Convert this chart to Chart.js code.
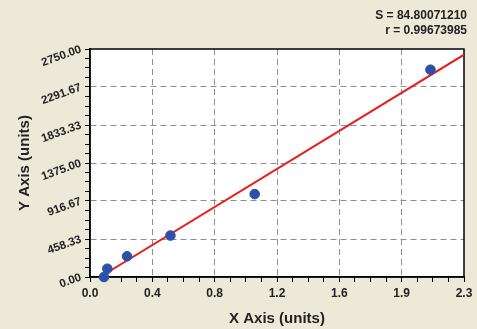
<!DOCTYPE html>
<html><head><meta charset="utf-8">
<script src="https://cdn.jsdelivr.net/npm/chart.js@4"></script>
<style>html,body{margin:0;padding:0;background:#ECE9D8;}#wrap{width:477px;height:329px;}</style>
</head><body><div id="wrap"><canvas id="c" width="477" height="329"></canvas></div>
<script>
const xValues = [0.087, 0.108, 0.231, 0.501, 1.026, 2.121];
const yValues = [0, 100, 250, 500, 1000, 2500];
const fitLineX = [0.062, 2.33];
const fitLineY = [0, 2681];
const xTickValues = [0, 0.38833, 0.77667, 1.165, 1.55333, 1.94167, 2.33];
const xTickLabels = ['0.0', '0.4', '0.8', '1.2', '1.6', '1.9', '2.3'];
const yTickValues = [0, 458.33, 916.67, 1375, 1833.33, 2291.67, 2750];
const yTickLabels = ['0.00', '458.33', '916.67', '1375.00', '1833.33', '2291.67', '2750.00'];
const statLines = ['S = 84.80071210', 'r = 0.99673985'];
const xTitle = 'X Axis (units)';
const yTitle = 'Y Axis (units)';

const FONT = '"Liberation Sans", Arial, sans-serif';

function buildTicks(majors, sub) {
  const out = [];
  for (let i = 0; i < majors.length; i++) {
    out.push({ value: majors[i], isMajor: true, mi: i });
    if (i < majors.length - 1) {
      for (let k = 1; k < sub; k++) {
        out.push({ value: majors[i] + (majors[i + 1] - majors[i]) * k / sub, isMajor: false });
      }
    }
  }
  return out;
}

function gridColor(majors) {
  return (c) => {
    const t = c.tick;
    if (!t || !t.isMajor) return 'rgba(0,0,0,0)';
    if (t.mi === 0 || t.mi === majors.length - 1) return 'rgba(0,0,0,0)';
    return '#8e8e8e';
  };
}

const bgPlugin = {
  id: 'bg',
  beforeDraw(chart) {
    const { ctx, chartArea: a } = chart;
    ctx.save();
    ctx.fillStyle = '#ECE9D8';
    ctx.fillRect(0, 0, chart.width, chart.height);
    ctx.fillStyle = '#FFFFFF';
    ctx.fillRect(a.left, a.top, a.right - a.left, a.bottom - a.top);
    ctx.restore();
  },
  beforeDatasetsDraw(chart) {
    const { ctx, chartArea: a } = chart;
    ctx.save();
    ctx.strokeStyle = '#000';
    ctx.lineWidth = 1.5;
    ctx.strokeRect(a.left, a.top, a.right - a.left, a.bottom - a.top);
    ctx.restore();
  },
  afterDraw(chart) {
    const ctx = chart.ctx;
    ctx.save();
    ctx.fillStyle = '#222';
    ctx.font = 'bold 12px ' + FONT;
    ctx.textAlign = 'right';
    ctx.textBaseline = 'middle';
    ctx.fillText(statLines[0], 467, 16);
    ctx.fillText(statLines[1], 467, 31);
    ctx.restore();
  }
};

new Chart(document.getElementById('c'), {
  type: 'scatter',
  data: {
    datasets: [
      {
        label: 'Fit',
        type: 'line',
        showLine: true,
        data: fitLineX.map((x, i) => ({ x: x, y: fitLineY[i] })),
        borderColor: '#E4231F',
        borderWidth: 2,
        pointRadius: 0,
        fill: false,
        order: 2
      },
      {
        label: 'Standards',
        data: xValues.map((x, i) => ({ x: x, y: yValues[i] })),
        backgroundColor: '#2C4FA8',
        borderColor: '#2C4FA8',
        pointRadius: 4.8,
        pointHoverRadius: 4.8,
        clip: false,
        order: 1
      }
    ]
  },
  options: {
    responsive: false,
    animation: false,
    events: [],
    layout: { padding: { top: 49, right: 13, left: 0, bottom: 0 } },
    plugins: { legend: { display: false }, tooltip: { enabled: false } },
    scales: {
      x: {
        type: 'linear',
        min: 0,
        max: 2.33,
        afterBuildTicks: (s) => { s.ticks = buildTicks(xTickValues, 4); },
        afterFit: (s) => { s.height = 52; },
        ticks: {
          autoSkip: false,
          maxRotation: 0,
          minRotation: 0,
          padding: 4,
          color: '#222',
          font: { family: FONT, size: 12, weight: 'bold' },
          callback: (v, i, ticks) => ticks[i].isMajor ? xTickLabels[ticks[i].mi] : ''
        },
        grid: {
          color: gridColor(xTickValues),
          lineWidth: 1,
          tickColor: '#000',
          tickLength: 5,
          tickWidth: 1,
          tickBorderDash: [],
          borderDash: [6, 4]
        },
        border: { display: true, color: '#000', width: 1.5, dash: [6, 4] },
        title: {
          display: true,
          text: xTitle,
          color: '#222',
          font: { family: FONT, size: 15, weight: 'bold' },
          padding: { top: 0, bottom: 1 }
        }
      },
      y: {
        type: 'linear',
        min: 0,
        max: 2750,
        afterBuildTicks: (s) => { s.ticks = buildTicks(yTickValues, 4); },
        afterFit: (s) => { s.width = 90; },
        ticks: {
          autoSkip: false,
          minRotation: 20,
          maxRotation: 20,
          padding: 4,
          color: '#222',
          font: { family: FONT, size: 11.5, weight: 'bold' },
          callback: (v, i, ticks) => ticks[i].isMajor ? yTickLabels[ticks[i].mi] : ''
        },
        grid: {
          color: gridColor(yTickValues),
          lineWidth: 1,
          tickColor: '#000',
          tickLength: 5,
          tickWidth: 1,
          tickBorderDash: [],
          borderDash: [6, 4]
        },
        border: { display: true, color: '#000', width: 1.5, dash: [6, 4] },
        title: {
          display: true,
          text: yTitle,
          color: '#222',
          font: { family: FONT, size: 15, weight: 'bold' },
          padding: { top: 16, bottom: 0 }
        }
      }
    }
  },
  plugins: [bgPlugin]
});
</script>
</body></html>
